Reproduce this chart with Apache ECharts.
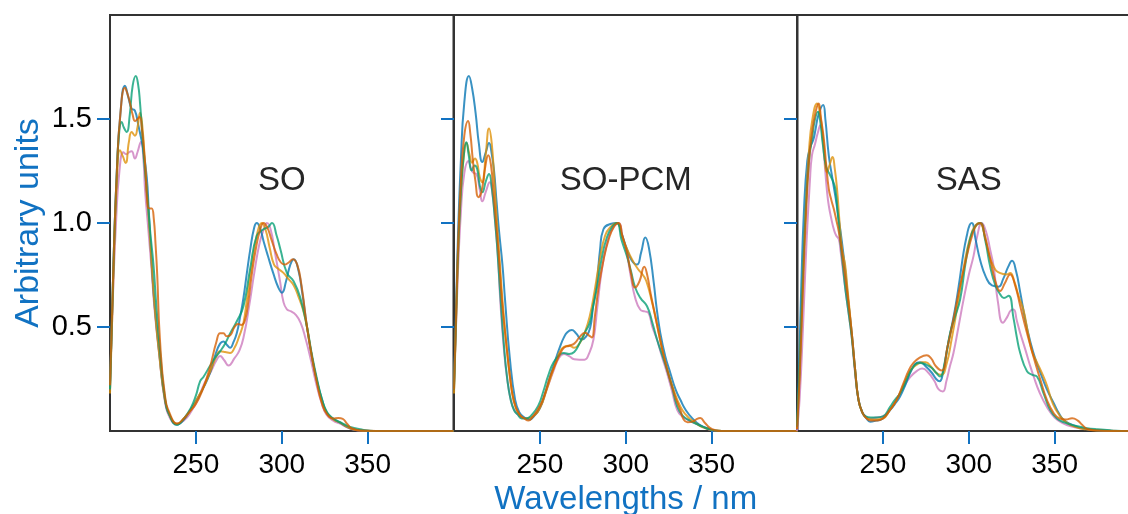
<!DOCTYPE html>
<html>
<head>
<meta charset="utf-8">
<script src="https://cdn.jsdelivr.net/npm/echarts@6/dist/echarts.min.js"></script>
<style>html,body{margin:0;padding:0;background:#fff;}#c{width:1128px;height:514px;}</style>
</head>
<body>
<div id="c"></div>
<script>
// ---- data ----
const panels = ['SO', 'SO-PCM', 'SAS'];
const seriesNames = ['s1', 's2', 's3', 's4', 's5'];
const xTicks = [250, 300, 350];
const yTicks = [0.5, 1.0, 1.5];
const xTitle = 'Wavelengths / nm';
const yTitle = 'Arbitrary units';

// SO panel
const so_blue = [[200,0.2],[202,0.8],[204,1.25],[206,1.52],[208.7,1.66],[210.8,1.6],[212.6,1.55],[214.5,1.54],[216.5,1.47],[219.4,1.35],[221.4,1.22],[222.5,1.07],[224.3,0.8],[226,0.6],[228.5,0.39],[232,0.15],[235,0.07],[239,0.03],[242,0.045],[246,0.09],[250.5,0.15],[254.5,0.21],[258.3,0.28],[261.5,0.37],[264.1,0.42],[266,0.43],[268,0.415],[269.9,0.4],[272,0.43],[273.8,0.47],[275.8,0.55],[277.7,0.64],[279.7,0.76],[281.6,0.87],[284,0.98],[285.5,1.0],[287.5,0.97],[289.5,0.91],[292,0.84],[295,0.76],[298,0.69],[300.1,0.665],[302.5,0.72],[305,0.8],[307,0.826],[309.5,0.78],[312,0.66],[314.7,0.5],[317.5,0.36],[320.5,0.24],[323.5,0.15],[326.4,0.085],[330,0.058],[334,0.04],[338,0.02],[342,0.007],[348,0.001],[355,0],[400,0]];
const so_orange = [[200,0.18],[202,0.75],[204,1.2],[205.8,1.35],[207.5,1.32],[209.1,1.288],[211,1.39],[212.6,1.438],[214.5,1.42],[216,1.46],[217.5,1.53],[219,1.45],[220.4,1.28],[222.4,1.04],[224.3,0.8],[226,0.6],[228.5,0.38],[232,0.15],[235,0.07],[239,0.035],[243,0.06],[247,0.1],[251,0.16],[255,0.22],[259,0.3],[262,0.36],[264.1,0.383],[267,0.38],[269.9,0.375],[272.5,0.4],[275,0.45],[277.7,0.52],[280,0.65],[283,0.82],[286,0.96],[288.4,1.0],[290.5,0.97],[293,0.88],[295.5,0.8],[298,0.78],[301,0.76],[304,0.73],[307,0.7],[310,0.64],[312.5,0.58],[314.7,0.5],[317.5,0.36],[320.5,0.24],[323.5,0.14],[326.4,0.085],[330,0.055],[334,0.04],[338,0.02],[342,0.007],[348,0.001],[355,0],[400,0]];
const so_green = [[200,0.2],[202,0.8],[204,1.25],[205.5,1.45],[206.8,1.486],[208,1.46],[209.7,1.438],[211.5,1.52],[213.2,1.66],[215,1.707],[216.3,1.67],[217.5,1.575],[219,1.4],[220,1.285],[222,1.1],[223.5,0.95],[225.3,0.8],[227,0.6],[229,0.4],[232,0.16],[235,0.07],[239,0.03],[243,0.06],[247,0.11],[250,0.17],[252.5,0.24],[254.4,0.26],[258,0.31],[261,0.35],[264.1,0.383],[267,0.42],[270,0.47],[274,0.53],[277.7,0.6],[281.6,0.78],[285.5,0.94],[289.4,0.97],[292,0.98],[294.3,1.0],[297,0.94],[299.2,0.874],[303,0.76],[306.9,0.72],[310.8,0.64],[314.7,0.5],[317.5,0.37],[320.5,0.25],[323.5,0.15],[326.4,0.09],[330,0.06],[334,0.042],[338,0.026],[342,0.015],[346,0.008],[350,0.003],[356,0],[400,0]];
const so_dark = [[200,0.22],[202,0.8],[204,1.25],[206,1.52],[208.7,1.65],[210.2,1.62],[211.7,1.575],[213.2,1.52],[214.6,1.49],[216,1.5],[217.3,1.51],[218.5,1.46],[220.4,1.285],[222,1.076],[223.2,1.07],[224.3,1.07],[225.5,1.02],[226.5,0.9],[227.5,0.75],[229,0.45],[232,0.17],[235,0.08],[239,0.035],[243,0.06],[246,0.09],[250,0.13],[254,0.2],[258,0.3],[262,0.43],[264.1,0.47],[266,0.47],[268,0.455],[270,0.46],[272.5,0.5],[274.5,0.515],[276.5,0.51],[278.5,0.53],[280.5,0.62],[282.5,0.75],[285,0.88],[287.5,0.97],[289.4,1.0],[291.5,0.98],[294,0.92],[297,0.85],[299.5,0.81],[301.6,0.8],[304,0.81],[306.5,0.826],[309,0.8],[311.5,0.7],[314.7,0.5],[317.5,0.36],[320.5,0.23],[323.5,0.13],[326.4,0.08],[330,0.06],[333,0.062],[335.5,0.058],[338,0.035],[341,0.012],[346,0.002],[355,0],[400,0]];
const so_pink = [[200,0.23],[201.5,0.6],[203.5,1.0],[205.5,1.25],[207.8,1.34],[209.5,1.33],[211,1.34],[212.6,1.345],[214.5,1.31],[216,1.34],[218,1.39],[219.5,1.3],[220.4,1.16],[222.4,0.96],[224,0.8],[226,0.58],[228.5,0.38],[232,0.14],[235,0.06],[239,0.035],[243,0.05],[247,0.09],[251,0.15],[255,0.23],[259,0.29],[262,0.34],[264.1,0.36],[266.5,0.34],[269,0.315],[272.5,0.35],[275.5,0.39],[278,0.46],[281,0.6],[284,0.76],[287,0.9],[289.5,0.97],[291.4,1.0],[293.5,0.97],[296,0.86],[299,0.72],[301,0.62],[303,0.585],[305.5,0.575],[308,0.56],[311,0.52],[314,0.44],[317,0.34],[320,0.23],[323,0.14],[326,0.08],[330,0.05],[334,0.035],[338,0.018],[342,0.006],[348,0.001],[355,0],[400,0]];

// SO-PCM panel
const pcm_blue = [[200,0.22],[202,0.85],[204,1.3],[206,1.58],[208.7,1.707],[210.5,1.65],[212.6,1.527],[214.5,1.38],[216.5,1.293],[218.5,1.34],[220.4,1.385],[222,1.33],[223.3,1.253],[224.8,1.1],[226.2,0.963],[228.2,0.8],[229.7,0.633],[232.5,0.35],[235.6,0.15],[238,0.09],[241,0.065],[244,0.055],[247,0.075],[250,0.11],[253,0.18],[256,0.262],[259,0.34],[261.8,0.407],[264,0.45],[266,0.475],[268.6,0.485],[271,0.47],[274.4,0.44],[277,0.455],[279.3,0.496],[281,0.6],[283.2,0.713],[285,0.87],[287,0.97],[291,0.995],[294.9,1.0],[297.5,0.95],[300.7,0.874],[303.5,0.82],[306.5,0.8],[309,0.86],[311.4,0.93],[313.5,0.88],[316.3,0.713],[318,0.59],[320.1,0.472],[323,0.36],[326,0.278],[329,0.2],[331.8,0.15],[335,0.1],[339.6,0.053],[343,0.03],[347.3,0.013],[353,0],[400,0]];
const pcm_orange = [[200,0.18],[202,0.75],[204,1.15],[205.8,1.33],[207.2,1.385],[209,1.33],[210.5,1.29],[212.2,1.31],[213.5,1.29],[215,1.22],[216.5,1.196],[218.5,1.33],[220.4,1.454],[222,1.38],[223.5,1.2],[225,1.0],[226.5,0.83],[228.5,0.6],[231,0.38],[233.5,0.2],[236,0.11],[239,0.07],[242,0.06],[246,0.07],[250,0.11],[254,0.2],[258,0.3],[261,0.37],[264,0.405],[267,0.41],[270,0.4],[273,0.42],[276,0.47],[279,0.55],[282,0.68],[285,0.83],[288,0.94],[291,0.98],[294.9,1.0],[298,0.93],[301,0.87],[304,0.82],[307,0.78],[310,0.75],[312,0.72],[315,0.63],[318,0.52],[321,0.4],[324,0.3],[327,0.22],[330,0.15],[333,0.1],[336.5,0.065],[339.6,0.045],[343,0.025],[347,0.012],[352,0.002],[356,0],[400,0]];
const pcm_green = [[200,0.2],[202,0.78],[204,1.15],[206,1.35],[207.2,1.388],[208.5,1.33],[210.3,1.252],[212,1.277],[213.5,1.26],[215,1.18],[216.5,1.148],[218.5,1.2],[220.4,1.236],[222,1.17],[223.5,1.05],[225,0.9],[227,0.65],[229,0.42],[231,0.25],[233,0.15],[235,0.1],[237,0.08],[239.4,0.06],[242,0.06],[245,0.075],[249,0.12],[252,0.19],[255,0.27],[258,0.33],[262,0.37],[264,0.375],[267,0.37],[270,0.38],[273,0.42],[276,0.47],[279,0.52],[281,0.6],[283.5,0.7],[286,0.83],[289,0.93],[292,0.98],[294.9,1.0],[297.5,0.92],[300.7,0.84],[303,0.77],[305.5,0.69],[308.5,0.64],[312.4,0.6],[315.5,0.52],[318.2,0.44],[321,0.37],[324,0.295],[327,0.21],[329.9,0.12],[333,0.075],[337.6,0.048],[341,0.035],[345,0.02],[349,0.008],[354,0.001],[358,0],[400,0]];
const pcm_dark = [[200,0.2],[202,0.8],[204,1.2],[206,1.42],[208.2,1.49],[209.5,1.43],[211,1.3],[212.5,1.2],[214.2,1.124],[216,1.15],[218,1.26],[220,1.326],[221.5,1.28],[223,1.15],[224.5,1.0],[226,0.85],[228,0.62],[230,0.45],[232.5,0.27],[235,0.14],[238,0.08],[241,0.06],[243.3,0.05],[246,0.07],[250,0.12],[253,0.18],[256,0.262],[259,0.32],[262,0.375],[264,0.4],[267,0.41],[270,0.42],[273,0.45],[276.3,0.472],[278.5,0.46],[280.2,0.45],[282,0.55],[284,0.68],[287,0.82],[290,0.92],[293,0.98],[295.9,1.0],[298,0.94],[300.7,0.86],[303,0.76],[305.5,0.69],[308,0.72],[310.8,0.79],[312.5,0.75],[314.5,0.66],[317,0.56],[320,0.44],[323,0.33],[326,0.24],[329,0.16],[331.8,0.1],[333.7,0.055],[336,0.042],[339,0.045],[341.5,0.058],[343.4,0.062],[346,0.04],[349,0.015],[352,0.004],[356,0],[400,0]];
const pcm_pink = [[200,0.23],[202,0.7],[204,1.05],[206,1.24],[208.4,1.298],[210,1.26],[211.5,1.24],[213,1.236],[215,1.16],[216.5,1.104],[218.5,1.15],[220.8,1.196],[222.5,1.13],[224,1.0],[225.5,0.85],[227,0.62],[229,0.4],[231,0.25],[234,0.12],[237,0.08],[240,0.065],[243,0.06],[246,0.07],[250,0.11],[254,0.2],[258,0.29],[261,0.35],[264,0.37],[267,0.36],[270,0.345],[273,0.343],[276,0.343],[278.5,0.37],[281.2,0.44],[283.5,0.6],[286,0.77],[289,0.9],[292,0.97],[295.9,1.0],[298,0.94],[300.7,0.85],[303,0.74],[305.5,0.64],[308.4,0.584],[311,0.575],[313.2,0.568],[315.5,0.5],[318.2,0.44],[321,0.36],[324,0.28],[327,0.19],[330,0.1],[333,0.07],[337.6,0.048],[341,0.035],[345,0.02],[349,0.006],[355,0],[400,0]];

// SAS panel
const sas_blue = [[200,0.02],[201,0.25],[202.5,0.7],[204,1.05],[206,1.3],[207.8,1.366],[209.5,1.4],[210.7,1.446],[212.5,1.52],[215.2,1.567],[216.5,1.5],[218.5,1.325],[220.5,1.22],[222.5,1.12],[224.3,1.02],[226.2,0.906],[228,0.78],[229.8,0.63],[231.9,0.47],[233.8,0.3],[235.8,0.15],[238,0.09],[240.5,0.06],[242.6,0.045],[246,0.05],[250,0.06],[254.2,0.1],[257,0.13],[260,0.166],[263,0.22],[266.5,0.29],[269.7,0.327],[271.7,0.33],[275,0.31],[278.5,0.28],[281,0.25],[283,0.239],[285,0.28],[287.3,0.39],[290,0.5],[292.5,0.61],[295,0.745],[297,0.86],[298.9,0.94],[300.5,0.99],[301.8,1.0],[304,0.92],[306.7,0.82],[310,0.74],[313.5,0.7],[317.4,0.694],[320,0.73],[323,0.79],[325.2,0.818],[327.5,0.77],[330,0.665],[333,0.53],[336,0.424],[339,0.34],[341.7,0.28],[345.5,0.2],[349.5,0.134],[352.5,0.085],[355.3,0.053],[360,0.03],[365,0.015],[370,0.007],[378,0.002],[386,0],[400,0]];
const sas_orange = [[200,0.01],[201.5,0.28],[203.3,0.7],[205,1.05],[207,1.35],[209,1.5],[211.7,1.575],[213.5,1.52],[215.5,1.38],[217.5,1.245],[219,1.28],[220.7,1.317],[222,1.26],[223.3,1.164],[224.8,1.0],[226.2,0.875],[228,0.8],[229.2,0.7],[231.9,0.47],[233.8,0.3],[235.8,0.15],[238,0.09],[241,0.06],[245,0.055],[250,0.06],[254,0.1],[258,0.15],[262,0.22],[266,0.29],[270,0.32],[273,0.33],[275,0.33],[278,0.31],[281,0.28],[284,0.27],[287,0.32],[290,0.44],[293,0.58],[296,0.73],[299,0.87],[302,0.96],[304,0.99],[306.3,1.0],[309,0.95],[311.5,0.86],[314.5,0.79],[318,0.76],[322.2,0.753],[324.1,0.76],[326.5,0.72],[329,0.65],[331.9,0.58],[334.5,0.47],[337,0.38],[339.7,0.33],[342.5,0.28],[345.5,0.22],[349,0.13],[353.3,0.07],[357,0.04],[362,0.02],[368,0.008],[376,0.002],[386,0],[400,0]];
const sas_green = [[200,0.02],[201.5,0.3],[203.3,0.72],[205,1.05],[207,1.3],[209,1.42],[210.5,1.5],[212.2,1.535],[213.5,1.49],[215,1.38],[217,1.27],[219.4,1.228],[221,1.2],[222.3,1.164],[223.8,1.04],[225.3,0.906],[226.8,0.79],[228.2,0.68],[230,0.57],[231.9,0.45],[233.8,0.29],[235.8,0.15],[238,0.09],[240,0.07],[243,0.065],[246,0.065],[250,0.07],[254.2,0.116],[257,0.15],[260,0.18],[264,0.25],[267.8,0.31],[271.7,0.327],[275,0.32],[278.5,0.303],[281,0.28],[283.3,0.262],[286,0.33],[289.2,0.472],[292,0.55],[295,0.633],[298,0.8],[300.8,0.923],[303.5,0.98],[306.7,1.0],[309.5,0.92],[312.5,0.79],[315.5,0.7],[318.3,0.657],[320.5,0.64],[323.2,0.65],[326.1,0.54],[328,0.45],[330,0.374],[333.9,0.287],[337,0.27],[339.7,0.262],[343.6,0.18],[347.5,0.1],[351.4,0.06],[356,0.04],[362,0.025],[368,0.015],[375,0.008],[383,0.003],[392,0],[400,0]];
const sas_dark = [[200,0.01],[201.5,0.25],[203.3,0.65],[205,1.0],[207,1.3],[209,1.45],[211,1.54],[212.6,1.575],[214,1.5],[215.6,1.406],[217,1.28],[218.5,1.164],[220,1.11],[221.4,1.068],[223,1.01],[224.3,0.96],[226,0.87],[227.2,0.794],[229,0.68],[231.9,0.47],[233.8,0.3],[235.8,0.15],[238,0.09],[240,0.065],[243,0.05],[246.5,0.05],[250,0.06],[254,0.1],[258,0.15],[262,0.23],[265,0.29],[267.8,0.327],[271,0.35],[275.5,0.364],[278,0.35],[281,0.31],[284.3,0.291],[287.5,0.4],[291.1,0.536],[295,0.7],[298.9,0.842],[302,0.94],[304.5,0.99],[306.7,1.0],[309.5,0.93],[312.5,0.826],[315.5,0.72],[318.3,0.673],[321,0.71],[324.1,0.753],[327,0.7],[330,0.6],[333,0.5],[335.9,0.41],[339,0.32],[341.7,0.246],[345.5,0.15],[349.5,0.085],[353,0.06],[356.5,0.055],[360.2,0.061],[363.5,0.05],[366,0.03],[369,0.01],[375,0.003],[385,0],[400,0]];
const sas_pink = [[200,0],[201.5,0.15],[203.5,0.5],[205.5,0.9],[207.5,1.2],[208.7,1.325],[210.5,1.38],[212,1.43],[213.6,1.47],[215,1.4],[216.5,1.245],[217.5,1.15],[218.5,1.084],[220,1.02],[221.4,0.971],[222.8,0.94],[224.3,0.923],[225.3,0.87],[226.2,0.81],[228.2,0.68],[230,0.57],[231.9,0.45],[233.8,0.28],[235.8,0.15],[238,0.09],[240,0.07],[243,0.06],[246,0.065],[250,0.07],[254,0.1],[258,0.15],[262,0.21],[266,0.26],[270,0.29],[273,0.3],[276.5,0.28],[280,0.24],[282.5,0.2],[284.9,0.19],[287,0.24],[289,0.31],[291.1,0.375],[294,0.5],[297,0.633],[300,0.75],[302.8,0.842],[305,0.94],[307.6,1.0],[310,0.96],[312.5,0.87],[314.5,0.79],[317,0.62],[319.9,0.52],[322.5,0.55],[324.5,0.58],[326.1,0.584],[328,0.53],[330,0.47],[333,0.39],[335.5,0.32],[337.8,0.262],[341,0.19],[345.5,0.116],[350,0.065],[355.3,0.036],[360,0.022],[366,0.012],[373,0.005],[382,0.001],[392,0],[400,0]];

const panelData = [
  [so_blue, so_orange, so_green, so_dark, so_pink],
  [pcm_blue, pcm_orange, pcm_green, pcm_dark, pcm_pink],
  [sas_blue, sas_orange, sas_green, sas_dark, sas_pink]
];
const labelAt = [300, 1.2];

// ---- style ----
const colors = ['#0173b2', '#de8f05', '#029e73', '#d55e00', '#cc78bc'];
const drawOrder = [4, 0, 1, 2, 3];
const blue = '#1172c2';
const font = 'Liberation Sans, Arial, sans-serif';
const gridLefts = [110, 454, 797];
const gridW = 343.5;

const chart = echarts.init(document.getElementById('c'), null, {renderer: 'canvas'});

const grids = [], xAxes = [], yAxes = [], series = [];
panels.forEach((p, i) => {
  grids.push({left: gridLefts[i], top: 15, width: gridW, height: 416, show: true,
    borderColor: '#333', borderWidth: 2, backgroundColor: 'transparent',
    containLabel: false, outerBoundsMode: 'none'});
  xAxes.push({
    gridIndex: i, type: 'value', min: 200, max: 400,
    axisLine: {show: true, onZero: false, lineStyle: {color: '#333', width: 2}},
    axisTick: {show: true, inside: false, length: 13, customValues: xTicks, lineStyle: {color: blue, width: 2}},
    axisLabel: {show: true, customValues: xTicks, color: '#000', fontSize: 28, fontFamily: font, margin: 20},
    splitLine: {show: false},
    name: i === 1 ? xTitle : '', nameLocation: 'middle', nameGap: 49,
    nameTextStyle: {color: blue, fontSize: 33, fontFamily: font}
  });
  yAxes.push({
    gridIndex: i, type: 'value', min: 0, max: 2.0,
    axisLine: {show: true, lineStyle: {color: '#333', width: 2}},
    axisTick: {show: true, inside: false, length: 13, customValues: yTicks, lineStyle: {color: blue, width: 2}},
    axisLabel: {show: i === 0, customValues: yTicks, color: '#000', fontSize: 29, fontFamily: font, margin: 18,
      formatter: v => v.toFixed(1)},
    splitLine: {show: false},
    name: i === 0 ? yTitle : '', nameLocation: 'middle', nameGap: 64,
    nameTextStyle: {color: blue, fontSize: 34, fontFamily: font}
  });
  drawOrder.forEach((k, n) => {
    const s = {
      name: p + '-' + seriesNames[k], type: 'line', xAxisIndex: i, yAxisIndex: i,
      data: panelData[i][k], showSymbol: false, symbol: 'none',
      smooth: 0.5, clip: true,
      lineStyle: {color: colors[k], width: 2, opacity: 0.78}, silent: true
    };
    if (n === 0) {
      s.markPoint = {symbol: 'circle', symbolSize: 0, silent: true,
        label: {show: true, position: 'inside', formatter: p, fontSize: 33, fontFamily: font, color: '#262626'},
        data: [{coord: labelAt}]};
    }
    series.push(s);
  });
});

chart.setOption({animation: false, backgroundColor: '#fff', grid: grids, xAxis: xAxes, yAxis: yAxes, series});
</script>
</body>
</html>
